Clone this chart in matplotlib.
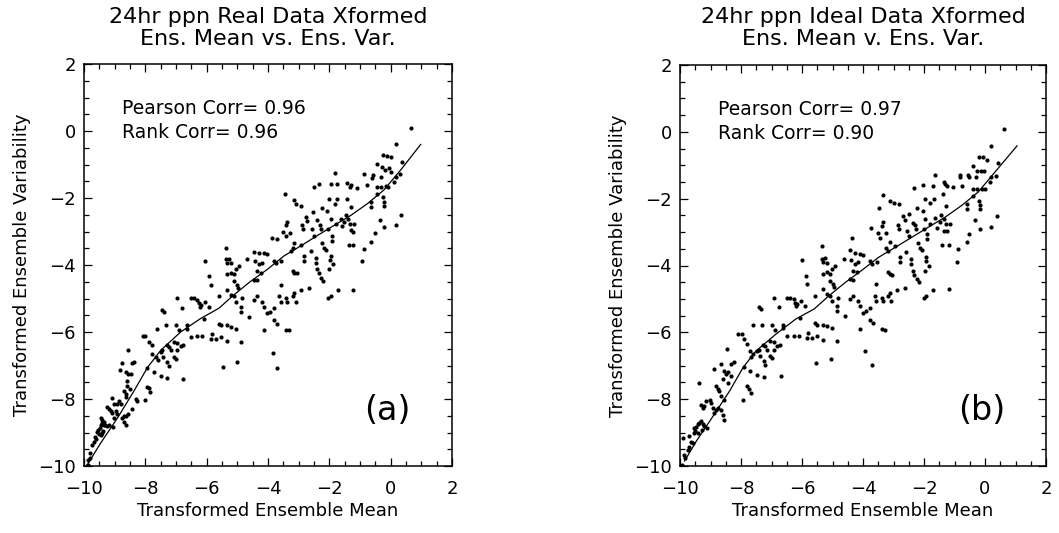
import matplotlib
matplotlib.use("Agg")
import matplotlib.pyplot as plt
from matplotlib.ticker import MultipleLocator
import numpy as np

plt.rcParams['font.family'] = ['DejaVu Sans']

# panel (a): real data, (ensemble mean, ensemble variability) pairs
real_points = [
    (0.65, 0.10), (0.16, -0.40), (-0.24, -0.73), (-0.11, -0.74), (0.02, -0.79), (-0.43, -0.98),
    (0.38, -0.94), (-0.29, -1.08), (-0.18, -1.16), (-0.05, -1.11), (0.02, -1.23), (-0.87, -1.29),
    (-0.58, -1.31), (-0.60, -1.41), (0.30, -1.29), (0.16, -1.36), (-0.33, -1.38), (-1.80, -1.26),
    (0.11, -1.51),
    (-1.28, -1.61), (-1.09, -1.71), (-0.78, -1.61), (-0.46, -1.66), (-0.33, -1.66), (-0.16, -1.64),
    (-0.08, -1.66), (-0.43, -1.89), (-0.24, -1.97), (-0.22, -2.12), (-0.22, -2.24), (-0.65, -2.12),
    (-0.63, -2.27), (-1.41, -2.02), (-1.30, -2.27), (-1.41, -1.56), (-1.33, -1.66), (-1.76, -2.02),
    (-1.83, -2.17), (-2.01, -2.02), (-1.74, -1.59), (-1.93, -1.59), (-2.34, -1.59), (-3.45, -1.89),
    (-3.15, -2.07), (-3.10, -2.17), (-2.93, -2.24), (-2.50, -1.67), (-2.23, -2.30), (-2.09, -2.40),
    (-2.52, -2.42),
    (-0.35, -2.67), (-0.22, -2.87), (0.16, -2.80), (0.35, -2.50), (-0.52, -3.04), (-0.63, -3.31),
    (-0.87, -3.51), (-1.20, -2.77), (-1.36, -3.41), (-1.22, -3.41), (-1.47, -2.50), (-1.39, -2.64),
    (-1.33, -2.77), (-1.30, -2.97), (-1.22, -3.00), (-1.63, -2.62), (-1.52, -2.72), (-1.58, -2.84),
    (-1.79, -2.77), (-1.96, -2.64), (-2.04, -2.92), (-2.28, -2.94), (-1.92, -3.12), (-1.92, -3.28),
    (-2.23, -3.33), (-2.17, -3.48), (-2.12, -3.55), (-2.39, -2.67), (-2.30, -2.80), (-2.55, -2.92),
    (-2.50, -3.12), (-2.77, -2.57), (-2.72, -2.69), (-2.88, -2.80), (-2.85, -2.92), (-3.15, -3.33),
    (-3.28, -3.04), (-2.93, -3.41), (-3.37, -2.72), (-3.42, -2.82), (-3.50, -3.02), (-3.42, -3.12),
    (-3.86, -3.20), (-3.70, -3.23), (-3.20, -3.48), (-3.26, -3.58),
    (-0.92, -3.88), (-2.83, -3.73), (-2.61, -3.58), (-2.45, -3.78), (-2.45, -3.93), (-2.39, -4.13),
    (-2.34, -4.25), (-2.26, -4.39), (-2.21, -4.49), (-1.96, -3.73), (-1.98, -3.85), (-1.88, -3.98),
    (-2.01, -4.13), (-2.83, -3.88), (-3.20, -4.18), (-3.15, -4.23), (-3.07, -4.25), (-3.59, -3.88),
    (-3.80, -3.88), (-3.75, -3.93), (-4.13, -3.63), (-4.04, -3.68), (-4.46, -3.61), (-4.29, -3.65),
    (-4.43, -3.88), (-4.29, -3.98), (-4.18, -3.93), (-4.67, -3.83), (-4.35, -4.18), (-4.24, -4.23),
    (-4.46, -4.44), (-4.35, -4.44), (-5.05, -4.13), (-4.95, -4.03), (-5.22, -4.23), (-5.11, -4.28),
    (-5.33, -4.28), (-5.11, -4.49), (-5.00, -4.59), (-4.98, -4.69), (-5.33, -3.93), (-5.22, -3.95),
    (-5.38, -3.83), (-5.27, -3.81), (-6.07, -3.88), (-5.92, -4.33), (-5.87, -4.59), (-5.38, -3.48),
    (-1.22, -4.74), (-1.72, -4.76), (-2.03, -4.99), (-1.96, -4.94), (-2.66, -4.69), (-2.93, -4.76),
    (-3.15, -4.84), (-3.20, -4.94), (-3.10, -5.09), (-3.42, -4.99), (-3.37, -5.09), (-3.59, -4.59),
    (-3.64, -4.94), (-3.59, -5.09), (-3.80, -5.29), (-4.02, -5.44), (-3.93, -5.39), (-4.18, -5.09),
    (-4.13, -5.24), (-4.35, -4.94), (-4.46, -5.04), (-4.62, -5.54), (-4.84, -4.99), (-4.89, -5.24),
    (-4.89, -5.39), (-5.05, -5.09), (-5.11, -4.94), (-5.33, -4.74), (-5.22, -4.89), (-5.60, -4.94),
    (-6.07, -5.09), (-5.92, -5.24), (-6.20, -5.19), (-6.52, -4.99), (-6.41, -4.99), (-6.30, -5.04),
    (-6.25, -5.14), (-6.22, -5.24), (-6.79, -5.27), (-6.96, -4.99), (-7.45, -5.34), (-7.39, -5.39),
    (-5.60, -5.75), (-5.54, -5.80), (-6.09, -5.60),
    (-3.32, -5.95), (-3.40, -5.93), (-3.80, -5.65), (-3.70, -5.75), (-4.13, -5.93), (-5.05, -5.90),
    (-4.89, -6.30), (-5.33, -5.80), (-5.22, -5.85), (-5.54, -6.15), (-5.33, -6.27), (-5.82, -6.05),
    (-5.85, -6.20), (-5.71, -6.20), (-6.14, -6.13), (-6.30, -6.13), (-6.52, -6.15), (-6.65, -5.80),
    (-6.65, -5.90), (-7.01, -5.80), (-6.90, -5.95), (-7.34, -5.80), (-6.76, -6.40), (-6.85, -6.43),
    (-7.07, -6.30), (-6.96, -6.33), (-7.30, -6.40), (-7.23, -6.45), (-7.17, -6.55), (-7.63, -5.90),
    (-8.07, -6.13), (-8.00, -6.13), (-7.88, -6.30), (-7.77, -6.40), (-7.50, -6.60), (-7.45, -6.55),
    (-3.83, -6.63), (-3.70, -7.08), (-5.46, -7.04), (-5.00, -6.91), (-7.77, -6.65), (-7.66, -6.75),
    (-7.60, -6.85), (-7.41, -6.75), (-7.28, -6.90), (-7.23, -7.00), (-7.07, -6.75), (-7.01, -6.80),
    (-6.96, -6.55), (-6.76, -7.41), (-7.72, -7.19), (-7.50, -7.31), (-7.28, -7.36), (-7.93, -7.06),
    (-8.56, -6.55), (-8.42, -6.92), (-8.37, -6.90), (-8.76, -6.92), (-8.81, -7.14), (-8.63, -7.19),
    (-8.58, -7.24), (-8.47, -7.24), (-8.59, -7.46),
    (-7.93, -7.63), (-7.89, -7.68), (-7.84, -7.78), (-8.00, -8.02), (-8.26, -8.05), (-8.59, -7.60),
    (-8.50, -7.71), (-8.69, -7.76), (-8.64, -7.86), (-8.86, -8.05), (-8.91, -8.15), (-8.80, -8.15),
    (-8.32, -7.99), (-8.63, -7.95), (-8.42, -8.30), (-8.55, -8.45), (-8.62, -8.50), (-8.70, -8.52),
    (-8.75, -8.58), (-8.69, -8.70), (-8.64, -8.77), (-9.08, -7.96), (-9.02, -8.15), (-9.26, -8.25),
    (-9.18, -8.30), (-9.13, -8.37), (-9.08, -8.42), (-9.02, -8.57), (-8.97, -8.35), (-8.91, -8.45),
    (-9.46, -8.57), (-9.40, -8.62),
    (-9.35, -8.70), (-9.40, -8.73), (-9.45, -8.78), (-9.48, -8.88), (-9.53, -8.93), (-9.56, -8.98),
    (-9.50, -9.03), (-9.45, -9.08), (-9.35, -8.77), (-9.30, -8.79), (-9.25, -8.81), (-9.20, -8.79),
    (-9.07, -8.84), (-9.38, -8.95), (-9.42, -9.00), (-9.63, -9.14), (-9.68, -9.28), (-9.74, -9.38),
    (-9.79, -9.62), (-9.82, -9.75), (-9.86, -9.83), (-9.91, -10.00), (-9.88, -9.96), (-9.60, -9.18),
]

# panel (b): ideal data
ideal_points = [
    (0.63, 0.08), (0.20, -0.43), (-0.21, -0.74), (-0.08, -0.74), (0.06, -0.84), (-0.40, -1.01),
    (0.44, -0.94), (-0.27, -1.18), (-0.14, -1.16), (-0.03, -1.18), (-0.81, -1.28), (-0.81, -1.36),
    (-0.56, -1.28), (-0.54, -1.36), (0.20, -1.36), (0.35, -1.31), (0.15, -1.51), (-0.29, -1.36),
    (-1.65, -1.28),
    (-1.25, -1.61), (-1.05, -1.66), (-0.76, -1.61), (-0.40, -1.71), (-0.27, -1.71), (-0.10, -1.71),
    (0.01, -1.71), (-0.38, -1.91), (-0.21, -2.07), (-0.18, -2.19), (-0.18, -2.32), (-0.60, -2.17),
    (-0.58, -2.32), (-1.38, -1.86), (-1.27, -2.22), (-1.36, -1.51), (-1.30, -1.56), (-1.68, -2.02),
    (-1.79, -2.12), (-1.98, -2.02), (-1.71, -1.61), (-2.03, -1.58), (-2.34, -1.68), (-3.34, -1.88),
    (-3.10, -2.07), (-2.99, -2.12), (-3.48, -2.29), (-2.83, -2.17), (-2.23, -2.27), (-2.04, -2.37),
    (-2.50, -2.45),
    (-0.32, -2.65), (-0.18, -2.90), (0.20, -2.85), (0.39, -2.52), (-0.51, -3.05), (-0.59, -3.29),
    (-0.87, -3.50), (-0.92, -3.90), (-1.16, -2.75), (-1.41, -3.38), (-1.19, -3.38), (-1.45, -2.48),
    (-1.36, -2.62), (-1.28, -2.75), (-1.25, -2.97), (-1.36, -2.97), (-1.63, -2.57), (-1.49, -2.69),
    (-1.57, -2.87), (-1.79, -2.75), (-1.96, -2.62), (-2.01, -2.92), (-2.26, -2.92), (-1.90, -3.07),
    (-1.90, -3.22), (-2.21, -3.32), (-2.14, -3.48), (-2.07, -3.53), (-2.36, -2.72), (-2.28, -2.79),
    (-2.56, -2.97), (-2.48, -3.12), (-2.69, -2.52), (-2.63, -2.65), (-2.86, -2.79), (-2.83, -2.92),
    (-3.12, -3.29), (-3.26, -3.02), (-2.94, -3.43), (-3.34, -2.70), (-3.37, -2.82), (-3.51, -3.02),
    (-3.45, -3.19), (-3.75, -2.87), (-4.35, -3.19), (-3.23, -3.48), (-3.19, -3.56),
    (-2.80, -3.75), (-2.58, -3.60), (-2.43, -3.80), (-2.43, -3.95), (-2.37, -4.15), (-2.32, -4.27),
    (-2.24, -4.40), (-2.18, -4.50), (-1.93, -3.75), (-1.95, -3.87), (-1.85, -4.00), (-1.98, -4.15),
    (-2.80, -3.90), (-3.17, -4.20), (-3.12, -4.25), (-3.04, -4.27), (-3.55, -3.90), (-3.77, -3.88),
    (-3.72, -3.95), (-4.10, -3.65), (-4.00, -3.70), (-4.42, -3.55), (-4.26, -3.62), (-4.40, -3.85),
    (-4.26, -3.95), (-4.15, -3.90), (-4.63, -3.80), (-4.32, -4.15), (-4.21, -4.20), (-4.42, -4.40),
    (-4.32, -4.42), (-5.02, -4.10), (-4.92, -4.00), (-5.19, -4.20), (-5.08, -4.25), (-5.30, -4.25),
    (-5.08, -4.45), (-4.97, -4.55), (-4.95, -4.65), (-5.30, -3.90), (-5.19, -3.92), (-5.35, -3.80),
    (-5.24, -3.78), (-5.99, -3.83), (-5.88, -4.30), (-5.84, -4.55), (-5.35, -3.42),
    (-1.19, -4.69), (-1.69, -4.73), (-2.00, -4.96), (-1.93, -4.90), (-2.63, -4.66), (-2.90, -4.73),
    (-3.12, -4.81), (-3.17, -4.91), (-3.07, -5.06), (-3.39, -4.96), (-3.34, -5.06), (-3.56, -4.56),
    (-3.61, -4.91), (-3.56, -5.06), (-3.77, -5.26), (-3.99, -5.41), (-3.90, -5.36), (-4.15, -5.06),
    (-4.10, -5.21), (-4.32, -4.91), (-4.43, -5.01), (-4.59, -5.50), (-4.81, -4.96), (-4.86, -5.21),
    (-4.86, -5.36), (-5.02, -5.06), (-5.08, -4.91), (-5.30, -4.71), (-5.19, -4.86), (-5.57, -4.91),
    (-6.04, -5.06), (-5.89, -5.21), (-6.17, -5.16), (-6.49, -4.96), (-6.38, -4.96), (-6.27, -5.01),
    (-6.22, -5.11), (-6.19, -5.21), (-6.76, -5.24), (-6.93, -4.96), (-7.42, -5.25), (-7.36, -5.30),
    (-5.57, -5.72), (-5.51, -5.77), (-6.06, -5.57),
    (-3.29, -5.92), (-3.37, -5.90), (-3.77, -5.62), (-3.67, -5.72), (-4.10, -5.90), (-5.02, -5.87),
    (-4.86, -6.27), (-5.30, -5.77), (-5.19, -5.82), (-5.51, -6.12), (-5.30, -6.24), (-5.79, -6.02),
    (-5.82, -6.17), (-5.68, -6.17), (-6.11, -6.10), (-6.27, -6.10), (-6.49, -6.12), (-6.62, -5.77),
    (-6.62, -5.87), (-6.98, -5.77), (-6.87, -5.92), (-7.31, -5.77), (-6.73, -6.37), (-6.82, -6.40),
    (-7.04, -6.27), (-6.93, -6.30), (-7.27, -6.37), (-7.20, -6.42), (-7.14, -6.52), (-7.62, -5.79),
    (-8.11, -6.05), (-7.98, -6.05), (-7.90, -6.20), (-7.79, -6.35), (-7.47, -6.57), (-7.42, -6.52),
    (-3.92, -6.55), (-3.70, -6.97), (-5.55, -6.92), (-5.06, -6.80), (-7.71, -6.55), (-7.62, -6.65),
    (-7.68, -6.75), (-7.38, -6.72), (-7.25, -6.87), (-7.20, -6.97), (-7.04, -6.72), (-6.98, -6.77),
    (-6.93, -6.52), (-6.68, -7.30), (-7.69, -7.16), (-7.47, -7.28), (-7.25, -7.33), (-7.90, -7.03),
    (-7.79, -7.61), (-7.73, -7.71), (-7.68, -7.81), (-7.95, -8.01),
    (-9.91, -9.17), (-9.86, -9.67), (-9.83, -9.77), (-9.93, -9.97), (-9.75, -9.52), (-9.69, -9.42),
    (-9.64, -9.27), (-9.59, -9.32), (-9.69, -9.10), (-9.55, -9.02), (-9.51, -8.94), (-9.48, -8.82),
    (-9.42, -8.74), (-9.37, -8.70), (-9.31, -8.66), (-9.26, -8.74), (-9.20, -8.80), (-9.40, -9.02),
    (-9.29, -8.92), (-9.10, -8.87), (-9.37, -7.51), (-9.31, -8.16), (-9.26, -8.26), (-9.20, -8.21),
    (-9.15, -8.06), (-8.99, -8.11), (-8.93, -8.26), (-8.88, -8.41), (-8.82, -8.33), (-8.77, -8.26),
    (-8.66, -8.31), (-8.60, -8.46), (-8.55, -8.61), (-8.82, -7.61), (-8.77, -7.71), (-8.71, -7.76),
    (-8.88, -7.10), (-8.66, -6.95), (-8.46, -6.50), (-8.55, -7.15), (-8.50, -7.25), (-8.44, -7.20),
    (-8.33, -7.30), (-8.60, -7.41), (-8.44, -7.51), (-8.33, -6.95), (-8.22, -6.90), (-8.64, -7.91),
    (-8.55, -8.01), (-9.02, -8.03), (-9.55, -8.85),
]

# smooth fitted curves
real_fit_x = [-9.95, -9.46, -8.91, -8.37, -7.93, -7.50, -6.85, -6.20, -5.60, -5.11, -4.57,
              -4.02, -3.48, -2.93, -2.39, -1.85, -1.30, -0.76, -0.22, 0.33, 0.98]
real_fit_y = [-10.05, -9.32, -8.57, -7.76, -7.06, -6.55, -6.00, -5.60, -5.29, -4.89, -4.49,
              -4.13, -3.73, -3.43, -3.12, -2.82, -2.52, -2.17, -1.76, -1.16, -0.40]
ideal_fit_x = [-9.85, -9.46, -8.91, -8.37, -7.93, -7.50, -6.85, -6.20, -5.60, -5.11, -4.57,
               -4.02, -3.48, -2.93, -2.39, -1.85, -1.30, -0.76, -0.22, 0.33, 1.05]
ideal_fit_y = [-9.85, -9.25, -8.50, -7.75, -7.05, -6.55, -6.05, -5.60, -5.30, -4.90, -4.50,
               -4.13, -3.75, -3.45, -3.15, -2.85, -2.55, -2.20, -1.80, -1.20, -0.42]

titles = ["24hr ppn Real Data Xformed\nEns. Mean vs. Ens. Var.",
          "24hr ppn Ideal Data Xformed\nEns. Mean v. Ens. Var."]
stat_text = ["Pearson Corr= 0.96\nRank Corr= 0.96",
             "Pearson Corr= 0.97\nRank Corr= 0.90"]
panel_tags = ["(a)", "(b)"]

W, H = 1059, 533
fig = plt.figure(figsize=(W / 100, H / 100), dpi=100)

# axes boxes in pixels: left, right, top, bottom
boxes = [(84, 452, 64, 466), (680, 1046, 65, 466)]
panels = [(real_points, real_fit_x, real_fit_y), (ideal_points, ideal_fit_x, ideal_fit_y)]

for i, (pts, fx, fy) in enumerate(panels):
    l, r, t, b = boxes[i]
    ax = fig.add_axes([l / W, 1 - b / H, (r - l) / W, (b - t) / H])
    pts = np.array(pts)
    ax.plot(pts[:, 0], pts[:, 1], 'o', color='black', markersize=3.0, markeredgewidth=0)
    ax.plot(fx, fy, '-', color='black', linewidth=0.9)
    ax.set_xlim(-10, 2)
    ax.set_ylim(-10, 2)
    ax.xaxis.set_major_locator(MultipleLocator(2))
    ax.yaxis.set_major_locator(MultipleLocator(2))
    ax.xaxis.set_minor_locator(MultipleLocator(0.5))
    ax.yaxis.set_minor_locator(MultipleLocator(0.5))
    ax.tick_params(which='both', direction='in', top=True, right=True, width=0.9)
    ax.tick_params(which='major', length=6, labelsize=13)
    ax.tick_params(which='minor', length=3.5)
    ax.tick_params(axis='x', pad=10)
    ax.tick_params(axis='y', pad=6)
    for s in ax.spines.values():
        s.set_linewidth(1.1)
    ax.set_xlabel("Transformed Ensemble Mean", fontsize=13, labelpad=3)
    ax.set_ylabel("Transformed Ensemble Variability", fontsize=13, labelpad=5)
    ax.text(-8.75, 0.95, stat_text[i], fontsize=13.5, va='top', ha='left', linespacing=1.3)
    ax.text(-0.1, -8.35, panel_tags[i], fontsize=24, ha='center', va='center')
    fig.text((l + r) / 2 / W, 1 - 7 / H, titles[i], fontsize=16, ha='center', va='top',
             linespacing=1.1)

fig.savefig("out.png", dpi=100)
